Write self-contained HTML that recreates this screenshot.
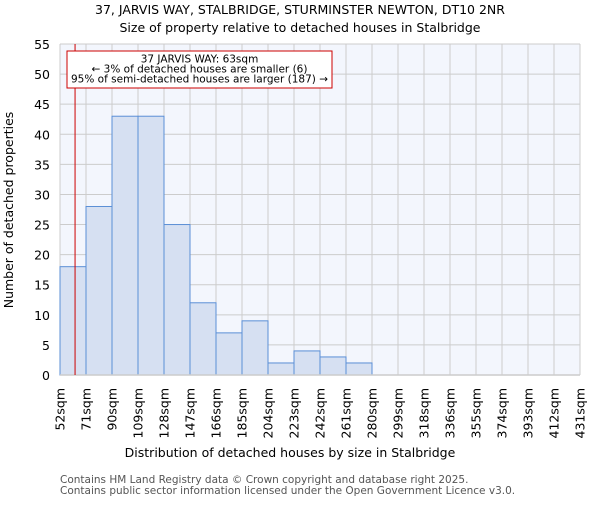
<!DOCTYPE html>
<html><head><meta charset="utf-8"><style>body{margin:0;background:#fff}svg{font-family:"DejaVu Sans","Liberation Sans",sans-serif}</style></head>
<body>
<svg id="chart" width="600" height="500">
<text x="300" y="14" text-anchor="middle" font-size="12.5">37, JARVIS WAY, STALBRIDGE, STURMINSTER NEWTON, DT10 2NR</text>
<text x="300" y="32" text-anchor="middle" font-size="12.5">Size of property relative to detached houses in Stalbridge</text>
<rect x="60" y="44" width="520" height="331" fill="#f3f6fd"/>
<g id="grid"></g><g id="bars"></g><g id="axes"></g>
<text transform="translate(13,210) rotate(-90)" text-anchor="middle" font-size="12.5">Number of detached properties</text>
<text x="290" y="457" text-anchor="middle" font-size="12.5">Distribution of detached houses by size in Stalbridge</text>
<text x="60" y="483" font-size="10.5" fill="#555">Contains HM Land Registry data © Crown copyright and database right 2025.</text>
<text x="60" y="494" font-size="10.5" fill="#555">Contains public sector information licensed under the Open Government Licence v3.0.</text>
</svg>
<script>
const labels=["52sqm","71sqm","90sqm","109sqm","128sqm","147sqm","166sqm","185sqm","204sqm","223sqm","242sqm","261sqm","280sqm","299sqm","318sqm","336sqm","355sqm","374sqm","393sqm","412sqm","431sqm"];
const counts=[18,28,43,43,25,12,7,9,2,4,3,2,0,0,0,0,0,0,0,0];
const yTicks=[0,5,10,15,20,25,30,35,40,45,50,55];
const propertySize=63;
const binStart=52, binWidth=19;
const NS="http://www.w3.org/2000/svg";
const X0=60,X1=580,Y0=375,Y1=44,yMax=55;
const bw=(X1-X0)/counts.length;
const xb=i=>X0+i*bw;
const xv=v=>X0+(v-binStart)/binWidth*bw;
const y=v=>Y0-(v/yMax)*(Y0-Y1);
function mk(t,a,p){const e=document.createElementNS(NS,t);for(const k in a)e.setAttribute(k,a[k]);p.appendChild(e);return e;}
const grid=document.getElementById('grid'),bars=document.getElementById('bars'),axes=document.getElementById('axes');
yTicks.forEach(v=>{
 const l=mk('line',{x1:X0,x2:X1,y1:y(v),y2:y(v),stroke:'#ccc','stroke-width':1},grid);
 
 
 const t=mk('text',{x:X0-10,y:y(v)+5,'text-anchor':'end','font-size':12.5},axes);t.textContent=v;
 
 
});
labels.forEach((s,i)=>{
 const l=mk('line',{x1:xb(i),x2:xb(i),y1:Y1,y2:Y0,stroke:'#ccc','stroke-width':1},grid);
 
 
 const t=mk('text',{transform:`translate(${xb(i)+4.5},388) rotate(-90)`,'text-anchor':'end','font-size':12.5},axes);t.textContent=s;
 
 
});
counts.forEach((c,i)=>{
 if(c<=0)return;
 const r=mk('rect',{x:xb(i),y:y(c),width:bw,height:Y0-y(c),fill:'#d6e0f2',stroke:'#5b8fd6','stroke-width':1},bars);
 
 
});
const bl=mk('line',{x1:X0,x2:X1,y1:Y0,y2:Y0,stroke:'#ccc','stroke-width':1.5},axes);


const mx=xv(propertySize);
const ml=mk('line',{x1:mx,x2:mx,y1:Y1,y2:Y0,stroke:'#c00','stroke-width':1},axes);


const g=mk('g',{},axes);


mk('rect',{x:67,y:51,width:265,height:37,fill:'#fff',stroke:'#c00','stroke-width':1},g);
["37 JARVIS WAY: 63sqm","← 3% of detached houses are smaller (6)","95% of semi-detached houses are larger (187) →"].forEach((s,k)=>{
 const t=mk('text',{x:199.5,y:62.5+k*10,'text-anchor':'middle','font-size':10.5},g);t.textContent=s;
});
</script>
</body></html>
